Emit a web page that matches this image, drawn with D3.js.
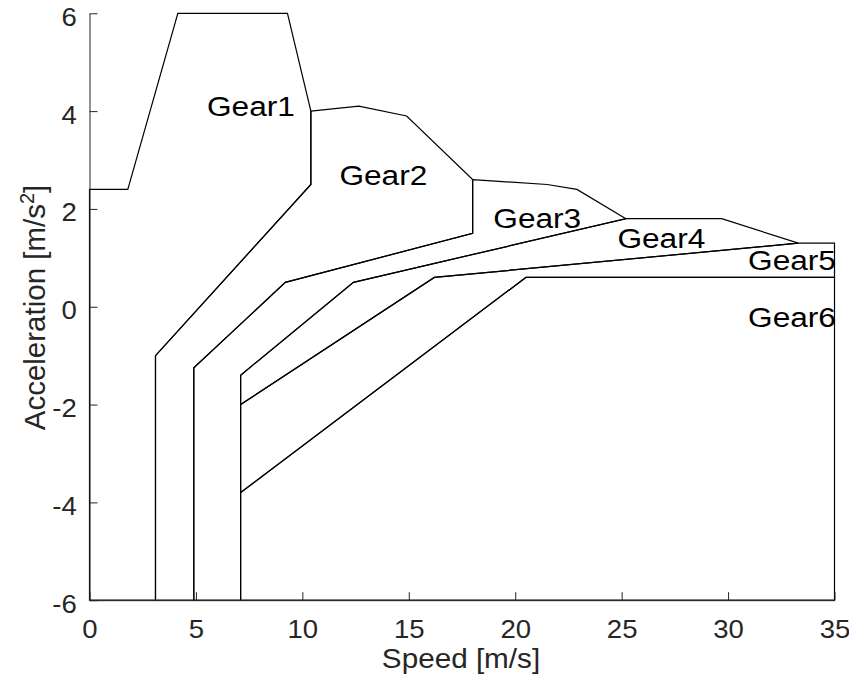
<!DOCTYPE html>
<html>
<head>
<meta charset="utf-8">
<script src="https://cdn.jsdelivr.net/npm/d3@7/dist/d3.min.js"></script>
<style>
  html, body { margin: 0; padding: 0; background: #fff; }
  svg { display: block; }
  text { font-family: "Liberation Sans", Arial, Helvetica, sans-serif; fill: #262626; }
</style>
</head>
<body>
<svg id="chart" width="849" height="683"></svg>
<script>
// Operating regions of each gear: outline vertices (speed in m/s, acceleration in m/s^2)
const gear1Speed = [0, 1.8, 4.15, 9.3, 10.4, 10.4, 3.1, 3.1, 0];
const gear1Accel = [2.4, 2.4, 6, 6, 4, 2.5, -1, -6, -6];

const gear2Speed = [10.4, 12.65, 14.9, 18, 18, 9.2, 4.9, 4.9, 3.1, 3.1, 10.4];
const gear2Accel = [4, 4.1, 3.9, 2.6, 1.5, 0.5, -1.25, -6, -6, -1, 2.5];

const gear3Speed = [18, 21.5, 22.9, 25.2, 12.4, 7.1, 7.1, 4.9, 4.9, 9.2, 18];
const gear3Accel = [2.6, 2.5, 2.4, 1.8, 0.5, -1.4, -6, -6, -1.25, 0.5, 1.5];

const gear4Speed = [25.2, 29.7, 33.3, 16.2, 7.1, 7.1, 12.4];
const gear4Accel = [1.8, 1.8, 1.3, 0.6, -2, -1.4, 0.5];

const gear5Speed = [33.3, 35, 35, 20.5, 7.1, 7.1, 16.2];
const gear5Accel = [1.3, 1.3, 0.6, 0.6, -3.8, -2, 0.6];

const gear6Speed = [20.5, 35, 35, 7.1, 7.1];
const gear6Accel = [0.6, 0.6, -6, -6, -3.8];

const gearNames = ["Gear1", "Gear2", "Gear3", "Gear4", "Gear5", "Gear6"];
// Where each gear name is written (speed, acceleration of the text baseline start)
const labelSpeed = [5.52, 11.74, 18.97, 24.8, 30.94, 30.94];
const labelAccel = [3.9, 2.49, 1.61, 1.21, 0.75, -0.41];

const xTicks = [0, 5, 10, 15, 20, 25, 30, 35];
const yTicks = [-6, -4, -2, 0, 2, 4, 6];

const gears = [
  [gear1Speed, gear1Accel],
  [gear2Speed, gear2Accel],
  [gear3Speed, gear3Accel],
  [gear4Speed, gear4Accel],
  [gear5Speed, gear5Accel],
  [gear6Speed, gear6Accel]
].map(([s, a]) => s.map((v, i) => [v, a[i]]));

const svg = d3.select("#chart");
const plot = { left: 89.5, right: 834.5, top: 13.3, bottom: 600.2 };

const x = d3.scaleLinear().domain([0, 35]).range([plot.left, plot.right]);
const y = d3.scaleLinear().domain([-6, 6]).range([plot.bottom, plot.top]);

// Gear region outlines
const line = d3.line().x(d => x(d[0])).y(d => y(d[1])).curve(d3.curveLinearClosed);
svg.append("g")
  .selectAll("path")
  .data(gears)
  .join("path")
  .attr("d", line)
  .attr("fill", "none")
  .attr("stroke", "#000")
  .attr("stroke-width", 1.2)
  .attr("stroke-linejoin", "miter");

// Axes with inward ticks
const tickFont = 25.5;
const xAxis = svg.append("g")
  .attr("transform", `translate(0,${plot.bottom})`)
  .call(d3.axisBottom(x).tickValues(xTicks).tickFormat(d3.format("d"))
    .tickSizeInner(-8).tickSizeOuter(0).tickPadding(0));
const yAxis = svg.append("g")
  .attr("transform", `translate(${plot.left},0)`)
  .call(d3.axisLeft(y).tickValues(yTicks).tickFormat(d => d < 0 ? "-" + Math.abs(d) : String(d))
    .tickSizeInner(-8).tickSizeOuter(0).tickPadding(0));

[xAxis, yAxis].forEach(g => {
  g.select(".domain").attr("stroke", "#262626").attr("stroke-width", 1);
  g.selectAll(".tick line").attr("stroke", "#262626").attr("stroke-width", 1);
  g.attr("font-family", null).attr("font-size", null);
});

xAxis.selectAll(".tick text")
  .attr("x", 0).attr("y", 0).attr("dy", null)
  .attr("font-size", tickFont)
  .attr("text-anchor", "middle")
  .attr("transform", "translate(0,38) scale(1.08,1)");

yAxis.selectAll(".tick text")
  .attr("x", 0).attr("y", 0).attr("dy", null)
  .attr("font-size", tickFont)
  .attr("text-anchor", "end")
  .attr("transform", "translate(-12.8,12) scale(1.08,1)");

// Gear names
svg.append("g")
  .selectAll("text")
  .data(gearNames)
  .join("text")
  .attr("transform", (d, i) => `translate(${x(labelSpeed[i])},${y(labelAccel[i])}) scale(1.15,1)`)
  .attr("font-size", 27.5)
  .style("fill", "#000")
  .text(d => d);

// Axis titles
svg.append("text")
  .attr("transform", `translate(461,668.3) scale(1.06,1)`)
  .attr("text-anchor", "middle")
  .attr("font-size", 28)
  .text("Speed [m/s]");

const yTitle = svg.append("text")
  .attr("transform", `translate(45,307.5) rotate(-90)`)
  .attr("text-anchor", "middle")
  .attr("font-size", 29.5);
yTitle.append("tspan").text("Acceleration [m/s");
yTitle.append("tspan").attr("font-size", 20).attr("dy", -11).text("2");
yTitle.append("tspan").attr("dy", 11).text("]");
</script>
</body>
</html>
